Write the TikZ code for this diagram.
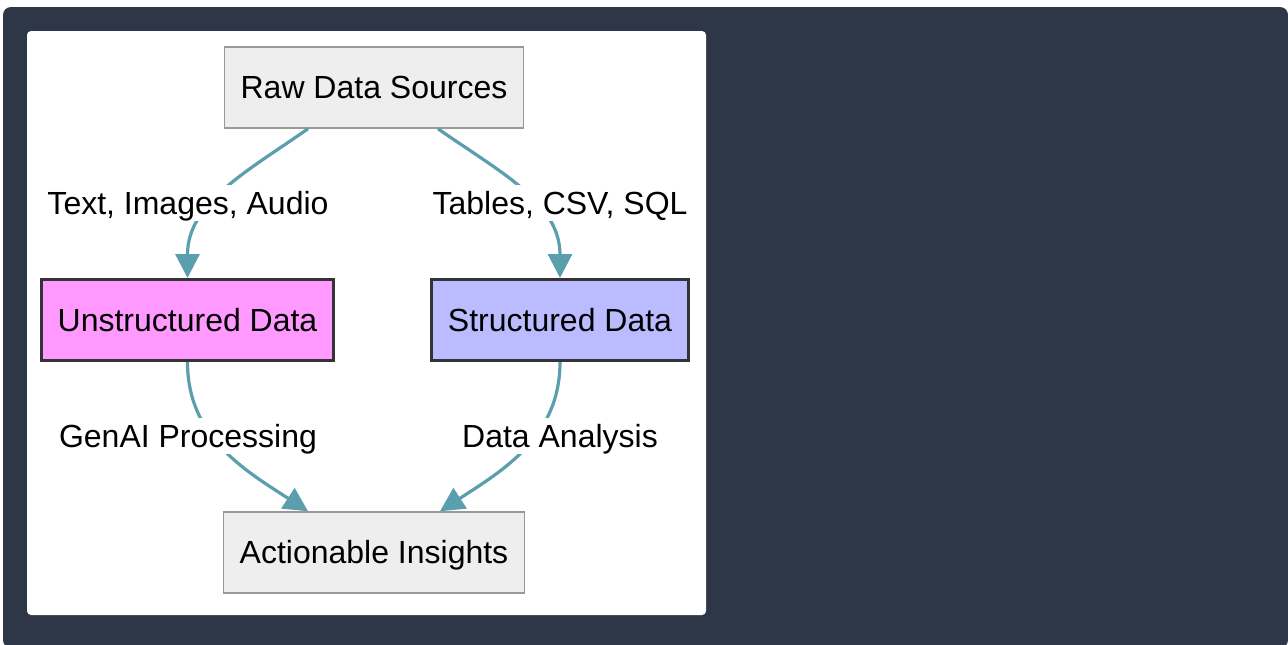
\documentclass[tikz,border=0pt]{standalone}
\usepackage{fontspec}
\setmainfont{Liberation Sans}
\usepackage{tikz}
\usetikzlibrary{arrows.meta}

\definecolor{panelbg}{HTML}{2D3748}
\definecolor{linkcol}{HTML}{5B9FAE}
\definecolor{boxgray}{HTML}{EEEEEE}
\definecolor{boxline}{HTML}{999999}
\definecolor{unstrfill}{HTML}{FF99FF}
\definecolor{strfill}{HTML}{BBBBFF}

\tikzset{
    box/.style={draw=boxline, fill=boxgray, line width=0.75pt, inner xsep=8pt,
        minimum height=40.5pt, text height=13pt, text depth=1.9pt},
    kindbox/.style={box, draw=black!80, line width=1.5pt},
    link/.style={draw=linkcol, line width=1.6pt, -{Triangle[length=12pt, width=12pt]}},
    linklabel/.style={fill=white, inner sep=1.5pt, text height=13pt, text depth=1.9pt}
}

\begin{document}
\begin{tikzpicture}[x=0.5pt, y=-0.5pt, font=\fontsize{16}{19}\selectfont]
            \useasboundingbox (0,0) rectangle (1288,644);
            \fill[panelbg, rounded corners=4pt] (3,7) rectangle (1288,648);
            \fill[white, rounded corners=2pt] (27,31) -- (706,31) -- (706,615) -- (27,615) -- cycle;

            \node[box] (raw) at (374,87.5) {Raw Data Sources};
            \node[kindbox, fill=unstrfill] (unstr) at (187.5,320) {Unstructured Data};
            \node[kindbox, fill=strfill] (str) at (560,320) {Structured Data};
            \node[box] (insights) at (374,552.5) {Actionable Insights};

            \draw[link] ([xshift=-33pt]raw.south) to[out=-145, in=90] (unstr.north);
            \draw[link] ([xshift=32pt]raw.south) to[out=-35, in=90] (str.north);
            \draw[link] (unstr.south) to[out=-90, in=147] ([xshift=-33pt]insights.north);
            \draw[link] (str.south) to[out=-90, in=33] ([xshift=33pt]insights.north);

            \node[linklabel] (lblunstr) at (188,203) {Text, Images, Audio};
            \node[linklabel] (lblstr) at (560,203) {Tables, CSV, SQL};
            \node[linklabel] (lblgenai) at (188,436) {GenAI Processing};
            \node[linklabel] (lblanalysis) at (560,436) {Data Analysis};
        \end{tikzpicture}
\end{document}
